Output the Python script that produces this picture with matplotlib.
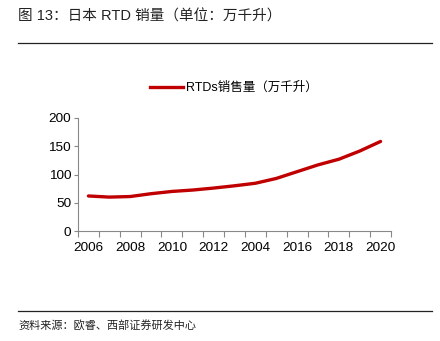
import numpy as np
import matplotlib.pyplot as plt
from matplotlib.lines import Line2D

plt.rcParams['font.family'] = ['Liberation Sans', 'Noto Sans CJK SC', 'DejaVu Sans']

# 数据（从图中读取，单位：万千升）
anos = list(range(2006, 2021))
vendas = [62, 60, 61, 66, 70, 72.5, 76, 80, 84.5, 93, 105, 117, 127, 141.5, 158.5]
rotulos_x = ['2006', '2008', '2010', '2012', '2004', '2016', '2018', '2020']

W, H = 440, 341
fig = plt.figure(figsize=(W / 100, H / 100), dpi=100)

# eixo em coordenadas de pixel
esq, dir_, topo, base = 78, 391, 118, 231
ax = fig.add_axes([esq / W, 1 - base / H, (dir_ - esq) / W, (base - topo) / H])

x = np.arange(len(anos))
ax.plot(x, vendas, color='#C00000', linewidth=2.4, solid_capstyle='round')

ax.set_xlim(-0.5, len(anos) - 0.5)
ax.set_ylim(0, 200)
ax.set_yticks([0, 50, 100, 150, 200])

ax.set_xticks(np.arange(-0.5, len(anos), 1.0))
ax.set_xticklabels([])
ax.set_xticks(np.arange(0, len(anos), 2), minor=True)
ax.set_xticklabels(rotulos_x, minor=True)
ax.tick_params(axis='x', which='major', length=4, color='#888888', direction='out')
ax.tick_params(axis='x', which='minor', length=0, pad=8, labelsize=9.7)
ax.tick_params(axis='y', length=3, color='#888888', labelsize=9.7, pad=2)

for s in ['top', 'right']:
    ax.spines[s].set_visible(False)
for s in ['left', 'bottom']:
    ax.spines[s].set_color('#888888')
    ax.spines[s].set_linewidth(0.8)

# legenda
leg = ax.legend([Line2D([0], [0], color='#C00000', linewidth=2.4)],
                ['RTDs销售量（万千升）'],
                loc='center left', bbox_to_anchor=((150 - esq) / (dir_ - esq), (base - 88) / (base - topo)),
                frameon=False, fontsize=9, handlelength=2.6, handletextpad=0.3,
                borderpad=0, borderaxespad=0)

# título e fonte
fig.text(18 / W, 1 - 17 / H, '图 13：日本 RTD 销量（单位：万千升）', fontsize=10.5,
         va='center', ha='left', color='#222222')
fig.add_artist(Line2D([18 / W, 432 / W], [1 - 43 / H, 1 - 43 / H], color='#222222', linewidth=0.9))
fig.add_artist(Line2D([18 / W, 432 / W], [1 - 311 / H, 1 - 311 / H], color='#222222', linewidth=0.9))
fig.text(18 / W, 1 - 326 / H, '资料来源：欧睿、西部证券研发中心', fontsize=8,
         va='center', ha='left', color='#222222')

fig.savefig('out.png', dpi=100)
